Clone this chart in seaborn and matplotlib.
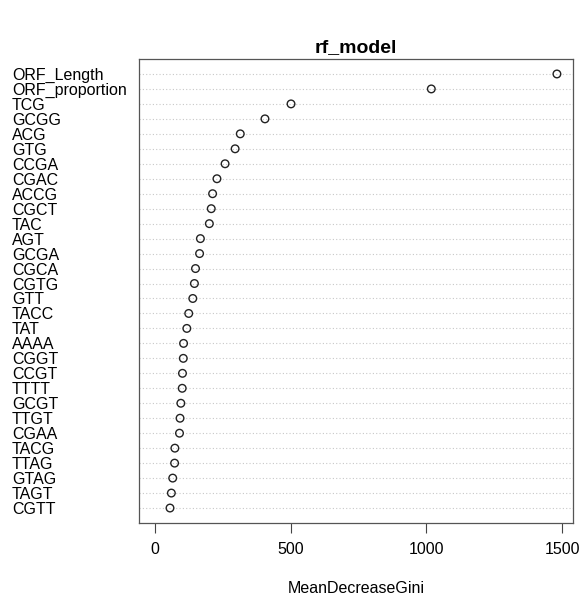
import matplotlib
matplotlib.use("Agg")
import matplotlib.pyplot as plt
import seaborn as sns
import pandas as pd

features = ["ORF_Length", "ORF_proportion", "TCG", "GCGG", "ACG", "GTG", "CCGA", "CGAC",
            "ACCG", "CGCT", "TAC", "AGT", "GCGA", "CGCA", "CGTG", "GTT", "TACC", "TAT",
            "AAAA", "CGGT", "CCGT", "TTTT", "GCGT", "TTGT", "CGAA", "TACG", "TTAG", "GTAG",
            "TAGT", "CGTT"]
gini = [1481, 1018, 501, 405, 314, 295, 258, 228,
        212, 207, 200, 167, 164, 149, 145, 139, 124, 117,
        105, 104, 101, 100, 95, 92, 90, 73, 72, 65,
        60, 55]
xticks = [0, 500, 1000, 1500]

df = pd.DataFrame({"feature": features, "MeanDecreaseGini": gini})

sns.set_style("white")
plt.rcParams["font.family"] = ["Liberation Sans", "DejaVu Sans"]
plt.rcParams["text.color"] = "black"
plt.rcParams["axes.labelcolor"] = "black"
plt.rcParams["xtick.color"] = "black"
plt.rcParams["ytick.color"] = "black"

fig = plt.figure(figsize=(5.8, 6.01), dpi=100)
ax = fig.add_axes([139/580, 1 - 523/601, (573-139)/580, (523-59)/601])

sns.scatterplot(data=df, x="MeanDecreaseGini", y="feature", ax=ax,
                marker="o", s=30, facecolor="none", edgecolor="#222222",
                linewidth=1.0, zorder=3)

n = len(features)
ax.set_ylim(n, -1)
xmax = max(gini)
ax.set_xlim(-0.04 * xmax, xmax * 1.04)

ax.grid(False)
for i in range(n):
    ax.axhline(i, color="#c8c8c8", linestyle=(0, (1, 2)), linewidth=0.8, zorder=1)

ax.set_xticks(xticks)
ax.set_xticklabels([str(t) for t in xticks], fontsize=11.5)
ax.tick_params(axis="x", direction="out", length=7.2, width=0.8, color="#444444",
               labelcolor="black", pad=6.5, bottom=True)
ax.set_yticks(range(n))
ax.set_yticklabels(features, fontsize=11.5)
ax.tick_params(axis="y", length=0, pad=127 * 0.72, labelcolor="black")
for lab in ax.get_yticklabels():
    lab.set_horizontalalignment("left")

for sp in ax.spines.values():
    sp.set_color("#555555")
    sp.set_linewidth(0.9)

ax.set_xlabel("MeanDecreaseGini", fontsize=11.5, labelpad=17, color="black")
ax.set_ylabel("")
ax.set_title("rf_model", fontsize=14, fontweight="bold", pad=5, color="black")

fig.savefig("out.png", dpi=100)
